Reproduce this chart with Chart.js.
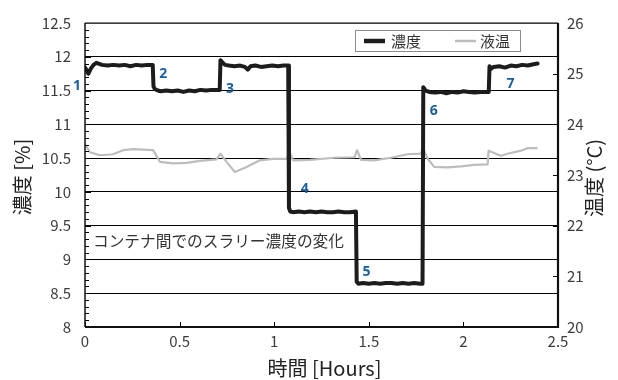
<!DOCTYPE html>
<html><head><meta charset="utf-8">
<script src="https://cdn.jsdelivr.net/npm/chart.js@4.4.1/dist/chart.umd.min.js"></script>
<style>html,body{margin:0;padding:0;background:#fff;}</style>
</head><body>
<canvas id="c" width="618" height="380" style="width:618px;height:380px;display:block"></canvas>
<script>
// ---- data ----
const concTime = [
  0, 0.008, 0.018, 0.03, 0.045, 0.06, 0.09, 0.12, 0.15, 0.18, 0.21, 0.24, 0.27, 0.30, 0.33, 0.358,
  0.362, 0.37, 0.385, 0.40, 0.43, 0.46, 0.49, 0.52, 0.55, 0.58, 0.61, 0.64, 0.67, 0.70, 0.712,
  0.716, 0.725, 0.74, 0.76, 0.79, 0.82, 0.845, 0.86, 0.875, 0.90, 0.93, 0.96, 0.99, 1.02, 1.05, 1.074,
  1.078, 1.085, 1.10, 1.13, 1.16, 1.19, 1.22, 1.25, 1.28, 1.31, 1.34, 1.37, 1.40, 1.432,
  1.436, 1.445, 1.47, 1.50, 1.53, 1.56, 1.59, 1.62, 1.65, 1.68, 1.71, 1.74, 1.77, 1.784,
  1.788, 1.80, 1.82, 1.85, 1.88, 1.91, 1.94, 1.97, 2.00, 2.03, 2.06, 2.09, 2.12, 2.134,
  2.138, 2.145, 2.16, 2.19, 2.22, 2.25, 2.28, 2.31, 2.34, 2.37, 2.392
];
const concValues = [
  11.84, 11.80, 11.75, 11.82, 11.88, 11.91, 11.88, 11.87, 11.88, 11.87, 11.88, 11.86, 11.88, 11.87, 11.88, 11.88,
  11.56, 11.52, 11.50, 11.49, 11.50, 11.49, 11.50, 11.48, 11.50, 11.49, 11.51, 11.50, 11.51, 11.51, 11.51,
  11.95, 11.92, 11.88, 11.87, 11.86, 11.87, 11.85, 11.81, 11.86, 11.87, 11.85, 11.86, 11.87, 11.86, 11.87, 11.87,
  9.76, 9.71, 9.70, 9.71, 9.70, 9.71, 9.70, 9.71, 9.70, 9.70, 9.71, 9.70, 9.70, 9.71,
  8.67, 8.64, 8.65, 8.64, 8.65, 8.64, 8.65, 8.65, 8.64, 8.65, 8.64, 8.65, 8.64, 8.64,
  11.55, 11.50, 11.48, 11.47, 11.48, 11.46, 11.48, 11.47, 11.49, 11.48, 11.47, 11.48, 11.48, 11.48,
  11.86, 11.82, 11.85, 11.86, 11.84, 11.87, 11.86, 11.88, 11.87, 11.89, 11.90
];
const tempTime = [
  0, 0.026, 0.079, 0.148, 0.201, 0.254, 0.36, 0.396, 0.465, 0.537, 0.607, 0.695, 0.716, 0.748,
  0.792, 0.854, 0.924, 0.994, 1.065, 1.082, 1.10, 1.188, 1.318, 1.424, 1.438, 1.459, 1.529,
  1.617, 1.705, 1.776, 1.785, 1.811, 1.846, 1.917, 1.987, 2.058, 2.128, 2.133, 2.198, 2.233,
  2.304, 2.339, 2.392
];
const tempValues = [
  23.61, 23.45, 23.39, 23.41, 23.49, 23.51, 23.49, 23.26, 23.23, 23.24, 23.28, 23.31, 23.42, 23.26,
  23.06, 23.16, 23.29, 23.32, 23.32, 23.45, 23.29, 23.30, 23.34, 23.35, 23.49, 23.30, 23.29,
  23.34, 23.41, 23.42, 23.55, 23.32, 23.16, 23.15, 23.17, 23.20, 23.21, 23.48, 23.38, 23.42,
  23.48, 23.53, 23.53
];
const seriesNames = ['濃度', '液温'];
const concTicks = [8, 8.5, 9, 9.5, 10, 10.5, 11, 11.5, 12, 12.5];
const tempTicks = [20, 21, 22, 23, 24, 25, 26];
const timeTicks = [0, 0.5, 1, 1.5, 2, 2.5];
const stepLabels = ['1', '2', '3', '4', '5', '6', '7'];
const stepLabelTime = [-0.042, 0.413, 0.766, 1.162, 1.488, 1.843, 2.249];
const stepLabelConc = [11.57, 11.74, 11.52, 10.04, 8.82, 11.19, 11.6];
const noteText = 'コンテナ間でのスラリー濃度の変化';
const axisTitles = { x: '時間 [Hours]', y: '濃度 [%]', y2: '温度 (°C)' };

// ---- chart ----
const FONT = '"Noto Sans CJK JP", "Noto Sans", sans-serif';
const TICKCOL = '#3c3c3c';
const plainLabel = v => String(v);

const deco = {
  id: 'deco',
  afterDraw(chart) {
    const { ctx, chartArea: a, scales } = chart;
    const sx = scales.x, sy = scales.y, sy2 = scales.y2;
    ctx.save();
    ctx.strokeStyle = '#000';
    ctx.lineWidth = 1;
    for (let i = 0; i <= 45; i++) {
      const v = 8 + i * 0.1;
      const py = Math.round(sy.getPixelForValue(v)) + 0.5;
      const len = (i % 5 === 0) ? 6 : 4;
      ctx.beginPath(); ctx.moveTo(a.left, py); ctx.lineTo(a.left + len, py); ctx.stroke();
    }
    tempTicks.forEach(v => {
      const py = Math.round(sy2.getPixelForValue(v)) + 0.5;
      ctx.beginPath(); ctx.moveTo(a.right, py); ctx.lineTo(a.right - 5, py); ctx.stroke();
    });
    timeTicks.forEach(v => {
      const px = Math.round(sx.getPixelForValue(v)) + 0.5;
      ctx.beginPath(); ctx.moveTo(px, a.bottom); ctx.lineTo(px, a.bottom - 5); ctx.stroke();
    });
    ctx.lineWidth = 1.6; ctx.strokeStyle = '#555';
    ctx.beginPath(); ctx.moveTo(a.left, a.top); ctx.lineTo(a.right, a.top); ctx.stroke();
    ctx.strokeStyle = '#111'; ctx.lineWidth = 1.5;
    ctx.beginPath(); ctx.moveTo(a.left, a.top); ctx.lineTo(a.left, a.bottom); ctx.stroke();
    ctx.lineWidth = 2.2;
    ctx.beginPath(); ctx.moveTo(a.left, a.bottom); ctx.lineTo(a.right, a.bottom); ctx.lineTo(a.right, a.top); ctx.stroke();

    ctx.fillStyle = '#1a5e9c';
    ctx.font = 'bold 14px "Open Sans", "Noto Sans", sans-serif';
    ctx.textAlign = 'center'; ctx.textBaseline = 'middle';
    stepLabels.forEach((t, i) => {
      ctx.fillText(t, sx.getPixelForValue(stepLabelTime[i]), sy.getPixelForValue(stepLabelConc[i]));
    });

    ctx.fillStyle = '#333';
    ctx.font = '15.7px ' + FONT;
    ctx.textAlign = 'left';
    ctx.fillText(noteText, a.left + 8, sy.getPixelForValue(9.27));

    const lx = a.left + 270, ly = a.top + 7, lw = 165, lh = 21;
    ctx.fillStyle = '#fff';
    ctx.fillRect(lx, ly, lw, lh);
    ctx.strokeStyle = '#8a8a8a'; ctx.lineWidth = 1;
    ctx.strokeRect(lx + 0.5, ly + 0.5, lw, lh);
    const ds = chart.data.datasets;
    const midY = ly + lh / 2 + 0.5;
    ctx.font = '15px ' + FONT;
    ctx.textBaseline = 'middle';
    [[lx + 9, lx + 36], [lx + 100, lx + 125]].forEach((p, i) => {
      ctx.strokeStyle = ds[i].borderColor;
      ctx.lineWidth = i === 0 ? 4.5 : 2.5;
      ctx.beginPath(); ctx.moveTo(p[0], midY); ctx.lineTo(p[0] + 21, midY); ctx.stroke();
      ctx.fillStyle = '#333';
      ctx.fillText(ds[i].label, p[1], midY);
    });

    ctx.fillStyle = '#222';
    ctx.font = '20px ' + FONT;
    ctx.textAlign = 'center';
    ctx.fillText(axisTitles.x, (a.left + a.right) / 2 + 3, 368);
    ctx.save();
    ctx.translate(22, (a.top + a.bottom) / 2 + 2);
    ctx.rotate(-Math.PI / 2);
    ctx.fillText(axisTitles.y, 0, 0);
    ctx.restore();
    ctx.save();
    ctx.translate(594, (a.top + a.bottom) / 2 + 3);
    ctx.rotate(-Math.PI / 2);
    ctx.fillText(axisTitles.y2, 0, 0);
    ctx.restore();
    ctx.restore();
  }
};

new Chart(document.getElementById('c'), {
  type: 'line',
  data: {
    datasets: [
      {
        label: seriesNames[0],
        data: concTime.map((t, i) => ({ x: t, y: concValues[i] })),
        borderColor: '#1c1c1c', borderWidth: 4, pointRadius: 0, tension: 0,
        borderJoinStyle: 'round', borderCapStyle: 'round', yAxisID: 'y'
      },
      {
        label: seriesNames[1],
        data: tempTime.map((t, i) => ({ x: t, y: tempValues[i] })),
        borderColor: '#bdbdbd', borderWidth: 2.2, pointRadius: 0, tension: 0,
        borderJoinStyle: 'round', yAxisID: 'y2'
      }
    ]
  },
  options: {
    responsive: false, animation: false, devicePixelRatio: 1,
    layout: { padding: { top: 15, left: 0, right: 0, bottom: 0 } },
    plugins: { legend: { display: false }, tooltip: { enabled: false } },
    scales: {
      x: {
        type: 'linear', min: 0, max: 2.5,
        afterBuildTicks: s => { s.ticks = timeTicks.map(v => ({ value: v })); },
        afterFit: s => { s.height = 53; },
        grid: { display: false, drawTicks: false },
        border: { display: false },
        ticks: { padding: 5, color: TICKCOL, font: { family: FONT, size: 15 }, maxRotation: 0, callback: plainLabel }
      },
      y: {
        position: 'left', min: 8, max: 12.5,
        afterBuildTicks: s => { s.ticks = concTicks.map(v => ({ value: v })); },
        afterFit: s => { s.width = 85; },
        grid: { color: '#000', lineWidth: 1, drawTicks: false },
        border: { display: false },
        ticks: { padding: 14, color: TICKCOL, font: { family: FONT, size: 15 }, callback: plainLabel }
      },
      y2: {
        position: 'right', min: 20, max: 26,
        afterBuildTicks: s => { s.ticks = tempTicks.map(v => ({ value: v })); },
        afterFit: s => { s.width = 60; },
        grid: { display: false, drawTicks: false },
        border: { display: false },
        ticks: { padding: 9, color: TICKCOL, font: { family: FONT, size: 15 }, callback: plainLabel }
      }
    }
  },
  plugins: [deco]
});
</script>
</body></html>
